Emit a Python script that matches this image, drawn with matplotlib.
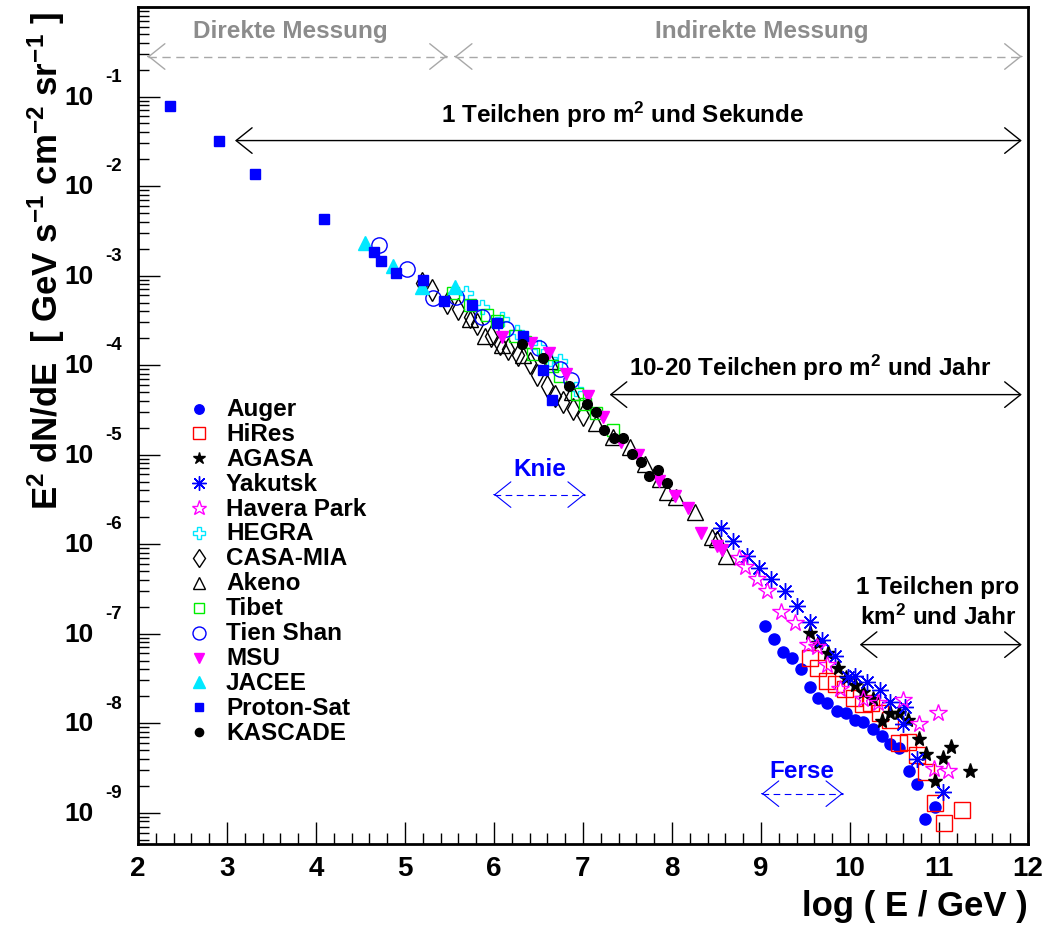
import matplotlib
matplotlib.use("Agg")
import matplotlib.pyplot as plt
import numpy as np
from matplotlib.ticker import MultipleLocator, LogLocator, NullFormatter

plt.rcParams['font.family'] = ['Liberation Sans', 'DejaVu Sans']
plt.rcParams['font.weight'] = 'bold'
plt.rcParams['mathtext.fontset'] = 'custom'
plt.rcParams['mathtext.rm'] = 'Liberation Sans:bold'
plt.rcParams['mathtext.bf'] = 'Liberation Sans:bold'
plt.rcParams['mathtext.it'] = 'Liberation Sans:bold'

# x: log10(E/GeV), lg: log10(E^2 dN/dE [GeV s^-1 cm^-2 sr^-1])
auger_x = [9.05, 9.15, 9.25, 9.35, 9.45, 9.55, 9.64, 9.74, 9.85, 9.95,
           10.06, 10.15, 10.26, 10.36, 10.45, 10.55, 10.66, 10.75, 10.84, 10.95]
auger_lg = [-6.91, -7.06, -7.20, -7.27, -7.40, -7.60, -7.72, -7.77, -7.86, -7.89,
            -7.97, -7.99, -8.07, -8.14, -8.23, -8.28, -8.53, -8.68, -9.07, -8.94]

hires_x = [9.55, 9.64, 9.74, 9.84, 9.94, 10.05, 10.15, 10.24, 10.34, 10.45,
           10.55, 10.65, 10.75, 10.85, 10.96, 11.06, 11.26]
hires_lg = [-7.27, -7.38, -7.53, -7.56, -7.62, -7.72, -7.79, -7.78, -7.89, -7.97,
            -8.22, -8.21, -8.36, -8.55, -8.89, -9.11, -8.97]

agasa_x = [9.55, 9.64, 9.75, 9.86, 9.96, 10.06, 10.15, 10.26, 10.36, 10.45,
           10.55, 10.65, 10.77, 10.85, 10.96, 11.05, 11.14, 11.35]
agasa_lg = [-6.99, -7.11, -7.22, -7.38, -7.50, -7.57, -7.65, -7.73, -7.98, -7.89,
            -7.89, -7.97, -8.18, -8.34, -8.65, -8.39, -8.27, -8.54]

yakutsk_x = [8.55, 8.69, 8.84, 8.98, 9.11, 9.27, 9.41, 9.55, 9.69, 9.83,
             9.98, 10.06, 10.19, 10.34, 10.45, 10.62, 10.60, 10.75, 11.05]
yakutsk_lg = [-5.82, -5.97, -6.13, -6.27, -6.39, -6.52, -6.69, -6.87, -7.07, -7.25,
              -7.48, -7.47, -7.54, -7.63, -7.76, -7.82, -8.01, -8.40, -8.77]

havera_x = [8.75, 8.82, 8.95, 9.07, 9.23, 9.38, 9.53, 9.63, 9.74, 9.89,
            10.15, 10.32, 10.60, 10.77, 10.99, 10.94, 11.10]
havera_lg = [-6.16, -6.26, -6.39, -6.52, -6.76, -6.88, -7.13, -7.15, -7.35, -7.62,
             -7.73, -7.78, -7.74, -8.01, -7.89, -8.51, -8.54]

hegra_x = [5.69, 5.87, 6.09, 6.26, 6.50, 6.63, 6.74, 6.92]
hegra_lg = [-3.19, -3.35, -3.49, -3.63, -3.80, -3.93, -3.96, -4.27]

casamia_x = [5.19, 5.30, 5.47, 5.60, 5.73, 5.81, 5.97, 6.07, 6.16, 6.27,
             6.40, 6.48, 6.59, 6.69, 6.78, 6.89, 7.00]
casamia_lg = [-3.08, -3.16, -3.31, -3.37, -3.46, -3.54, -3.67, -3.76, -3.82, -3.89,
              -3.98, -4.11, -4.23, -4.34, -4.41, -4.49, -4.56]

akeno_x = [5.73, 5.90, 6.09, 6.33, 6.63, 6.88, 7.15, 7.34, 7.53, 7.70,
           7.87, 7.94, 8.05, 8.26, 8.45, 8.50, 8.61]
akeno_lg = [-3.48, -3.67, -3.78, -3.89, -3.95, -4.30, -4.65, -4.80, -4.91, -5.10,
            -5.27, -5.42, -5.47, -5.64, -5.92, -5.94, -6.13]

tibet_x = [5.54, 5.73, 5.92, 6.03, 6.24, 6.35, 6.44, 6.65, 6.74, 6.93, 7.02, 7.15, 7.34]
tibet_lg = [-3.20, -3.33, -3.44, -3.51, -3.67, -3.74, -3.88, -4.01, -4.12, -4.32,
            -4.44, -4.54, -4.72]

tienshan_x = [4.71, 5.02, 5.31, 5.57, 5.86, 6.14, 6.50, 6.74, 6.87]
tienshan_lg = [-2.66, -2.93, -3.25, -3.24, -3.46, -3.60, -3.81, -4.04, -4.17]

msu_x = [6.09, 6.42, 6.62, 6.81, 7.06, 7.23, 7.43, 7.62, 7.85, 8.03, 8.18, 8.33, 8.50, 8.56]
msu_lg = [-3.69, -3.75, -3.87, -4.10, -4.34, -4.58, -4.86, -5.01, -5.29, -5.46,
          -5.60, -5.88, -6.02, -6.07]

jacee_x = [4.55, 4.86, 5.19, 5.56]
jacee_lg = [-2.64, -2.89, -3.13, -3.13]

protonsat_x = [2.36, 2.91, 3.31, 4.09, 4.65, 4.73, 4.90, 5.20, 5.44, 5.75,
               6.03, 6.33, 6.55, 6.65]
protonsat_lg = [-1.11, -1.50, -1.86, -2.37, -2.74, -2.84, -2.97, -3.05, -3.28, -3.33,
                -3.53, -3.67, -4.05, -4.39]

kascade_x = [6.31, 6.55, 6.84, 7.04, 7.15, 7.24, 7.35, 7.45, 7.55, 7.65, 7.74, 7.84, 7.94]
kascade_lg = [-3.76, -3.92, -4.23, -4.43, -4.52, -4.72, -4.81, -4.82, -4.99, -5.08,
              -5.24, -5.17, -5.32]

decades = [-1, -2, -3, -4, -5, -6, -7, -8, -9]

BLUE, RED, MAG, CYAN, GREEN = '#0000ff', '#ff0000', '#ff00ff', '#00e8ff', '#00ee00'

# label, x, lg, marker, color, filled, markersize
series = [
    ("Auger", auger_x, auger_lg, 'o', BLUE, True, 8),
    ("HiRes", hires_x, hires_lg, 's', RED, False, 11),
    ("AGASA", agasa_x, agasa_lg, '*', 'black', True, 11),
    ("Yakutsk", yakutsk_x, yakutsk_lg, (8, 2, 0), BLUE, False, 12),
    ("Havera Park", havera_x, havera_lg, '*', MAG, False, 13),
    ("HEGRA", hegra_x, hegra_lg, 'P', CYAN, False, 10),
    ("CASA-MIA", casamia_x, casamia_lg, 'd', 'black', False, 11),
    ("Akeno", akeno_x, akeno_lg, '^', 'black', False, 11),
    ("Tibet", tibet_x, tibet_lg, 's', GREEN, False, 9),
    ("Tien Shan", tienshan_x, tienshan_lg, 'o', BLUE, False, 11),
    ("MSU", msu_x, msu_lg, 'v', MAG, True, 9),
    ("JACEE", jacee_x, jacee_lg, '^', CYAN, True, 10),
    ("Proton-Sat", protonsat_x, protonsat_lg, 's', BLUE, True, 7),
    ("KASCADE", kascade_x, kascade_lg, 'o', 'black', True, 7),
]

W, H = 1052, 929
fig = plt.figure(figsize=(W / 100, H / 100), dpi=100)
ax = fig.add_axes([138 / W, (H - 845) / H, 890 / W, 837 / H])
ax.set_xlim(2, 12)
ax.set_yscale('log')
ax.set_ylim(10 ** -9.35, 1)


def marker_kw(marker, color, filled, ms):
    return dict(marker=marker, ms=ms, mec=color, mew=1.0,
                mfc=color if filled else 'none', ls='none')


for name, xs, lgs, m, c, f, ms in series:
    ax.plot(xs, np.power(10.0, lgs), **marker_kw(m, c, f, ms))

# legend drawn by hand, ROOT style
for i, (name, xs, lgs, m, c, f, ms) in enumerate(series):
    yy = (845 - (409.5 + 24.9 * i)) / 837
    ax.plot([(199 - 138) / 890], [yy], transform=ax.transAxes, clip_on=False,
            **marker_kw(m, c, f, ms * 0.85))
    ax.text((226 - 138) / 890, yy, name, transform=ax.transAxes, fontsize=17.5,
            ha='left', va='center')

# axes style
for sp in ax.spines.values():
    sp.set_linewidth(2)
ax.xaxis.set_major_locator(MultipleLocator(1))
ax.xaxis.set_minor_locator(MultipleLocator(0.2))
ax.yaxis.set_major_locator(LogLocator(base=10, numticks=20))
ax.yaxis.set_minor_locator(LogLocator(base=10, subs=np.arange(2, 10), numticks=20))
ax.yaxis.set_major_formatter(NullFormatter())
ax.yaxis.set_minor_formatter(NullFormatter())
ax.tick_params(which='both', direction='in', top=False, right=False, width=1)
ax.tick_params(which='major', length=16)
ax.tick_params(which='minor', length=8)
ax.tick_params(axis='x', labelsize=20, pad=8)

# ROOT-like "10" with the exponent up and to the right
for k in decades:
    ax.annotate('10', xy=(0, 10.0 ** k), xycoords=('axes fraction', 'data'),
                xytext=(-42.5, 0), textcoords='offset points', fontsize=19,
                ha='center', va='center', annotation_clip=False)
    ax.annotate(str(k), xy=(0, 10.0 ** k), xycoords=('axes fraction', 'data'),
                xytext=(-17.3, 14.5), textcoords='offset points', fontsize=13.5,
                ha='center', va='center', annotation_clip=False)

fig.text(1028 / W, 1 - 907 / H, 'log ( E / GeV )', fontsize=25,
         ha='right', va='center')
fig.text(46 / W, 1 - 12 / H,
         r'E$^{2}$ dN/dE  [ GeV s$^{-1}$ cm$^{-2}$ sr$^{-1}$ ]',
         fontsize=25, rotation=90, ha='center', va='top')

# annotations
GRAY_T, GRAY_L = '#8c8c8c', '#a8a8a8'
HEAD = 'head_length=1.15,head_width=0.92'


def lg_to_y(lg):
    return 10.0 ** lg


def double_arrow(x0, x1, lg, color, dashed=False, lw=1.0):
    y = lg_to_y(lg)
    if dashed:
        ax.plot([x0, x1], [y, y], color=color, lw=lw, ls=(0, (6, 4)))
        for tip, back in ((x0, x0 + 0.001), (x1, x1 - 0.001)):
            ax.annotate('', xy=(tip, y), xytext=(back, y),
                        arrowprops=dict(arrowstyle='->,' + HEAD, color=color, lw=lw,
                                        shrinkA=0, shrinkB=0, mutation_scale=10))
    else:
        ax.annotate('', xy=(x1, y), xytext=(x0, y),
                    arrowprops=dict(arrowstyle='<->,' + HEAD, color=color, lw=lw,
                                    shrinkA=0, shrinkB=0, mutation_scale=10))


ax.text(3.71, lg_to_y(-0.263), 'Direkte Messung', color=GRAY_T, fontsize=17.5,
        ha='center', va='center')
ax.text(9.01, lg_to_y(-0.263), 'Indirekte Messung', color=GRAY_T, fontsize=17.5,
        ha='center', va='center')
double_arrow(2.11, 5.47, -0.553, GRAY_L, dashed=True)
double_arrow(5.56, 11.93, -0.553, GRAY_L, dashed=True)

ax.text(7.44, lg_to_y(-1.19), r'1 Teilchen pro m$^{2}$ und Sekunde', fontsize=17.5,
        ha='center', va='center')
double_arrow(3.09, 11.93, -1.492, 'black')

ax.text(9.55, lg_to_y(-4.02), r'10-20 Teilchen pro m$^{2}$ und Jahr', fontsize=17.5,
        ha='center', va='center')
double_arrow(7.30, 11.93, -4.33, 'black')

ax.text(6.52, lg_to_y(-5.156), 'Knie', color=BLUE, fontsize=17.5,
        ha='center', va='center')
double_arrow(6.00, 7.02, -5.447, BLUE, dashed=True, lw=0.8)

ax.text(10.99, lg_to_y(-6.475), '1 Teilchen pro', fontsize=17.5,
        ha='center', va='center')
ax.text(10.99, lg_to_y(-6.81), r'km$^{2}$ und Jahr', fontsize=17.5,
        ha='center', va='center')
double_arrow(10.11, 11.93, -7.123, 'black')

ax.text(9.46, lg_to_y(-8.53), 'Ferse', color=BLUE, fontsize=17.5,
        ha='center', va='center')
double_arrow(9.01, 9.92, -8.788, BLUE, dashed=True, lw=0.8)

fig.savefig('out.png', dpi=100)
